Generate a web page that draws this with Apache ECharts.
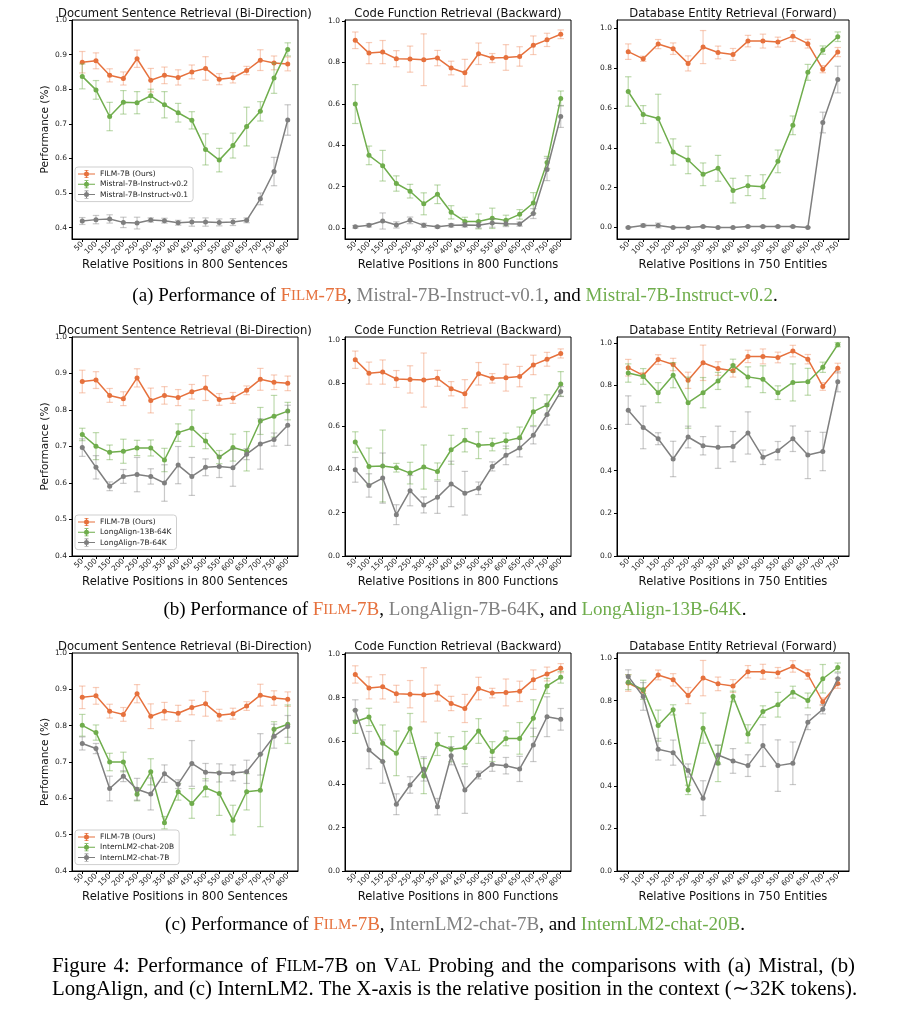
<!DOCTYPE html>
<html><head><meta charset="utf-8">
<script src="https://cdn.jsdelivr.net/npm/echarts@6/dist/echarts.min.js"></script>
<style>html,body{margin:0;padding:0;background:#fff}#c{width:911px;height:1016px}</style>
</head><body><div id="c"></div>
<script>
// ---------- DATA ----------
const positions800 = ['50','100','150','200','250','300','350','400','450','500','550','600','650','700','750','800'];
const positions750 = ['50','100','150','200','250','300','350','400','450','500','550','600','650','700','750'];
const ticksDoc = [0.4,0.5,0.6,0.7,0.8,0.9,1.0];
const ticksUnit = [0.0,0.2,0.4,0.6,0.8,1.0];

const nameFilm = 'FILM-7B (Ours)';
const nameMistral02 = 'Mistral-7B-Instruct-v0.2';
const nameMistral01 = 'Mistral-7B-Instruct-v0.1';
const nameLA13 = 'LongAlign-13B-64K';
const nameLA7 = 'LongAlign-7B-64K';
const nameIL20 = 'InternLM2-chat-20B';
const nameIL7 = 'InternLM2-chat-7B';

const docFilm    = [0.878,0.882,0.840,0.831,0.888,0.826,0.840,0.834,0.850,0.860,0.829,0.833,0.854,0.884,0.876,0.873];
const docFilmErr = [0.031,0.023,0.019,0.019,0.025,0.034,0.024,0.022,0.020,0.034,0.016,0.015,0.012,0.030,0.020,0.020];
const codeFilm    = [0.907,0.845,0.850,0.818,0.816,0.813,0.821,0.773,0.750,0.842,0.821,0.824,0.829,0.883,0.909,0.936];
const codeFilmErr = [0.040,0.051,0.056,0.039,0.063,0.125,0.037,0.033,0.065,0.052,0.022,0.062,0.047,0.045,0.032,0.021];
const dbFilm    = [0.883,0.847,0.921,0.898,0.824,0.906,0.879,0.869,0.936,0.936,0.931,0.961,0.923,0.795,0.881];
const dbFilmErr = [0.039,0.013,0.023,0.029,0.038,0.083,0.032,0.030,0.029,0.035,0.025,0.027,0.022,0.018,0.023];

const docMistral02    = [0.837,0.798,0.721,0.762,0.761,0.781,0.755,0.732,0.710,0.626,0.595,0.637,0.692,0.736,0.832,0.915];
const docMistral02Err = [0.036,0.027,0.041,0.034,0.032,0.019,0.038,0.027,0.025,0.045,0.034,0.036,0.056,0.028,0.044,0.019];
const docMistral01    = [0.419,0.423,0.425,0.415,0.413,0.422,0.420,0.414,0.416,0.416,0.415,0.416,0.421,0.483,0.562,0.711];
const docMistral01Err = [0.010,0.012,0.012,0.015,0.017,0.006,0.007,0.007,0.012,0.012,0.010,0.010,0.007,0.017,0.041,0.044];
const codeMistral02    = [0.599,0.351,0.301,0.215,0.178,0.117,0.163,0.076,0.032,0.032,0.047,0.037,0.066,0.121,0.317,0.626];
const codeMistral02Err = [0.094,0.045,0.074,0.037,0.033,0.053,0.045,0.032,0.020,0.036,0.049,0.025,0.023,0.050,0.029,0.036];
const codeMistral01    = [0.006,0.013,0.034,0.015,0.037,0.013,0.006,0.013,0.015,0.013,0.024,0.021,0.019,0.070,0.283,0.539];
const codeMistral01Err = [0.006,0.008,0.039,0.015,0.016,0.010,0.005,0.008,0.010,0.013,0.020,0.014,0.010,0.024,0.054,0.053];
const dbMistral02    = [0.683,0.567,0.547,0.379,0.339,0.267,0.297,0.185,0.210,0.205,0.332,0.513,0.779,0.891,0.958];
const dbMistral02Err = [0.074,0.045,0.122,0.066,0.069,0.057,0.065,0.062,0.050,0.060,0.057,0.047,0.040,0.021,0.024];
const dbMistral01    = [0.000,0.010,0.010,0.000,0.000,0.005,0.000,0.000,0.005,0.005,0.005,0.005,0.000,0.527,0.743];
const dbMistral01Err = [0.003,0.007,0.012,0.002,0.002,0.004,0.002,0.002,0.004,0.004,0.004,0.004,0.002,0.052,0.067];

const docLA13    = [0.733,0.701,0.684,0.687,0.696,0.696,0.663,0.738,0.750,0.715,0.671,0.697,0.687,0.770,0.783,0.797];
const docLA13Err = [0.017,0.037,0.020,0.033,0.021,0.022,0.032,0.024,0.050,0.021,0.018,0.037,0.054,0.037,0.057,0.024];
const docLA7     = [0.697,0.643,0.591,0.618,0.623,0.618,0.600,0.649,0.618,0.643,0.645,0.642,0.679,0.707,0.719,0.758];
const docLA7Err  = [0.024,0.032,0.012,0.019,0.047,0.021,0.050,0.051,0.052,0.023,0.030,0.051,0.015,0.069,0.018,0.055];
const codeLA13    = [0.527,0.414,0.416,0.408,0.383,0.411,0.391,0.491,0.535,0.512,0.515,0.532,0.546,0.667,0.698,0.795];
const codeLA13Err = [0.047,0.085,0.166,0.020,0.050,0.102,0.039,0.067,0.054,0.062,0.029,0.036,0.050,0.064,0.047,0.057];
const codeLA7     = [0.398,0.326,0.360,0.191,0.302,0.236,0.271,0.333,0.290,0.313,0.414,0.465,0.499,0.558,0.654,0.760];
const codeLA7Err  = [0.057,0.054,0.116,0.046,0.070,0.037,0.074,0.105,0.101,0.029,0.021,0.043,0.041,0.040,0.049,0.023];
const dbLA13    = [0.858,0.842,0.766,0.848,0.719,0.766,0.821,0.893,0.840,0.829,0.766,0.814,0.817,0.885,0.991];
const dbLA13Err = [0.043,0.037,0.047,0.059,0.120,0.071,0.040,0.030,0.047,0.063,0.032,0.087,0.063,0.024,0.010];
const dbLA7     = [0.684,0.603,0.550,0.455,0.558,0.517,0.510,0.513,0.577,0.463,0.494,0.550,0.474,0.490,0.817];
const dbLA7Err  = [0.067,0.100,0.028,0.083,0.051,0.043,0.099,0.071,0.099,0.034,0.043,0.060,0.111,0.090,0.047];

const docIL20    = [0.801,0.781,0.700,0.700,0.611,0.673,0.533,0.618,0.586,0.629,0.613,0.540,0.618,0.622,0.790,0.804];
const docIL20Err = [0.030,0.021,0.024,0.027,0.018,0.036,0.017,0.023,0.041,0.025,0.060,0.041,0.050,0.100,0.021,0.053];
const docIL7     = [0.751,0.737,0.627,0.661,0.625,0.612,0.668,0.639,0.696,0.672,0.670,0.670,0.673,0.721,0.771,0.798];
const docIL7Err  = [0.018,0.014,0.034,0.015,0.030,0.044,0.024,0.012,0.063,0.024,0.025,0.022,0.032,0.057,0.033,0.030];
const codeIL20    = [0.689,0.711,0.589,0.543,0.658,0.438,0.585,0.562,0.569,0.646,0.551,0.612,0.612,0.705,0.854,0.894];
const codeIL20Err = [0.054,0.040,0.085,0.103,0.069,0.081,0.052,0.058,0.075,0.057,0.046,0.034,0.073,0.085,0.035,0.027];
const codeIL7     = [0.742,0.558,0.505,0.308,0.397,0.471,0.297,0.532,0.374,0.443,0.492,0.486,0.471,0.582,0.712,0.700];
const codeIL7Err  = [0.048,0.086,0.100,0.048,0.038,0.056,0.038,0.042,0.108,0.018,0.032,0.038,0.058,0.077,0.092,0.050];
const dbIL20    = [0.887,0.851,0.683,0.757,0.381,0.671,0.506,0.820,0.644,0.749,0.781,0.840,0.801,0.903,0.956];
const dbIL20Err = [0.035,0.045,0.073,0.024,0.022,0.071,0.086,0.025,0.043,0.027,0.058,0.028,0.035,0.067,0.021];
const dbIL7     = [0.914,0.820,0.572,0.556,0.472,0.342,0.545,0.517,0.495,0.589,0.495,0.506,0.699,0.760,0.903];
const dbIL7Err  = [0.031,0.065,0.051,0.059,0.031,0.082,0.045,0.058,0.051,0.098,0.121,0.100,0.035,0.022,0.027];

// ---------- LAYOUT / STYLE ----------
const F = 'DejaVu Sans';
const SERIF = 'Liberation Serif';
const C  = {o:'#E6713D', g:'#6FAD4C', k:'#7F7F7F'};
const CE = {o:'rgba(238,135,90,0.42)', g:'rgba(111,173,76,0.45)', k:'rgba(127,127,127,0.42)'};
const rows = [{top:20,height:219},{top:337,height:219},{top:653,height:218}];
const cols = [{left:72,width:226},{left:345,width:226},{left:617,width:232}];
const T1 = 'Document Sentence Retrieval (Bi-Direction)';
const T2 = 'Code Function Retrieval (Backward)';
const T3 = 'Database Entity Retrieval (Forward)';
const X1 = 'Relative Positions in 800 Sentences';
const X2 = 'Relative Positions in 800 Functions';
const X3 = 'Relative Positions in 750 Entities';

const panels = [
 {r:0,c:0,t:T1,x:X1,cats:positions800,ymin:0.367,ymax:1.0,ticks:ticksDoc,s:[[nameFilm,docFilm,docFilmErr,'o'],[nameMistral02,docMistral02,docMistral02Err,'g'],[nameMistral01,docMistral01,docMistral01Err,'k']]},
 {r:0,c:1,t:T2,x:X2,cats:positions800,ymin:-0.053,ymax:1.005,ticks:ticksUnit,s:[[nameFilm,codeFilm,codeFilmErr,'o'],[nameMistral02,codeMistral02,codeMistral02Err,'g'],[nameMistral01,codeMistral01,codeMistral01Err,'k']]},
 {r:0,c:2,t:T3,x:X3,cats:positions750,ymin:-0.058,ymax:1.042,ticks:ticksUnit,s:[[nameFilm,dbFilm,dbFilmErr,'o'],[nameMistral02,dbMistral02,dbMistral02Err,'g'],[nameMistral01,dbMistral01,dbMistral01Err,'k']]},
 {r:1,c:0,t:T1,x:X1,cats:positions800,ymin:0.4,ymax:1.0,ticks:ticksDoc,s:[[nameFilm,docFilm,docFilmErr,'o'],[nameLA13,docLA13,docLA13Err,'g'],[nameLA7,docLA7,docLA7Err,'k']]},
 {r:1,c:1,t:T2,x:X2,cats:positions800,ymin:0,ymax:1.012,ticks:ticksUnit,s:[[nameFilm,codeFilm,codeFilmErr,'o'],[nameLA13,codeLA13,codeLA13Err,'g'],[nameLA7,codeLA7,codeLA7Err,'k']]},
 {r:1,c:2,t:T3,x:X3,cats:positions750,ymin:0,ymax:1.027,ticks:ticksUnit,s:[[nameFilm,dbFilm,dbFilmErr,'o'],[nameLA13,dbLA13,dbLA13Err,'g'],[nameLA7,dbLA7,dbLA7Err,'k']]},
 {r:2,c:0,t:T1,x:X1,cats:positions800,ymin:0.4,ymax:1.0,ticks:ticksDoc,s:[[nameFilm,docFilm,docFilmErr,'o'],[nameIL20,docIL20,docIL20Err,'g'],[nameIL7,docIL7,docIL7Err,'k']]},
 {r:2,c:1,t:T2,x:X2,cats:positions800,ymin:0,ymax:1.006,ticks:ticksUnit,s:[[nameFilm,codeFilm,codeFilmErr,'o'],[nameIL20,codeIL20,codeIL20Err,'g'],[nameIL7,codeIL7,codeIL7Err,'k']]},
 {r:2,c:2,t:T3,x:X3,cats:positions750,ymin:0,ymax:1.024,ticks:ticksUnit,s:[[nameFilm,dbFilm,dbFilmErr,'o'],[nameIL20,dbIL20,dbIL20Err,'g'],[nameIL7,dbIL7,dbIL7Err,'k']]}
];

function makeErr(color){
  return function(params, api){
    const x = api.value(0), y = api.value(1), e = api.value(2);
    const a = api.coord([x, y + e]), b = api.coord([x, y - e]);
    const cap = 3.2;
    const st = {stroke: color, lineWidth: 1.2};
    return {type:'group', children:[
      {type:'line', shape:{x1:a[0],y1:a[1],x2:b[0],y2:b[1]}, style:st},
      {type:'line', shape:{x1:a[0]-cap,y1:a[1],x2:a[0]+cap,y2:a[1]}, style:st},
      {type:'line', shape:{x1:b[0]-cap,y1:b[1],x2:b[0]+cap,y2:b[1]}, style:st}
    ]};
  };
}

const grid = [], xAxis = [], yAxis = [], series = [], graphic = [];
panels.forEach((p, pi) => {
  const g = {left: cols[p.c].left, top: rows[p.r].top, width: cols[p.c].width, height: rows[p.r].height};
  grid.push(Object.assign({show:true, borderColor:'#000', borderWidth:1, backgroundColor:'#fff'}, g));
  const idx = p.cats.map((_, i) => i);
  xAxis.push({type:'value', gridIndex:pi, min:-0.75, max:p.cats.length - 0.25,
    name:p.x, nameLocation:'middle', nameGap:19,
    nameTextStyle:{fontSize:11.6, fontFamily:F, color:'#111'},
    axisLine:{show:true, onZero:false, lineStyle:{color:'#000', width:1}},
    axisTick:{show:true, customValues:idx, length:3, lineStyle:{color:'#000'}},
    axisLabel:{customValues:idx, formatter:v => p.cats[Math.round(v)], rotate:45, fontSize:7.5, margin:4, color:'#222', fontFamily:F},
    splitLine:{show:false}});
  yAxis.push({type:'value', gridIndex:pi, min:p.ymin, max:p.ymax,
    name: p.c === 0 ? 'Performance (%)' : '', nameLocation:'middle', nameGap:15,
    nameTextStyle:{fontSize:10.5, fontFamily:F, color:'#111'},
    axisLine:{show:true, onZero:false, lineStyle:{color:'#000', width:1}},
    axisTick:{show:true, customValues:p.ticks, length:3, lineStyle:{color:'#000'}},
    axisLabel:{customValues:p.ticks, formatter:v => v.toFixed(1), fontSize:7.5, margin:5, color:'#222', fontFamily:F},
    splitLine:{show:false}});
  graphic.push({type:'text', x: g.left + g.width / 2, y: g.top - 6,
    style:{text:p.t, fontFamily:F, fontSize:11.6, fill:'#111', textAlign:'center', textVerticalAlign:'middle'}});
  p.s.forEach(([name, vals, errs, ck], si) => {
    series.push({type:'custom', xAxisIndex:pi, yAxisIndex:pi, z:2 + si * 2, silent:true,
      renderItem: makeErr(CE[ck]), data: vals.map((v, i) => [i, v, errs[i]]), encode:{x:0, y:1}});
    series.push({type:'line', name, xAxisIndex:pi, yAxisIndex:pi, z:3 + si * 2,
      data: vals.map((v, i) => [i, v]), symbol:'circle', symbolSize:5, showSymbol:true,
      lineStyle:{color:C[ck], width:1.5}, itemStyle:{color:C[ck], borderWidth:0}});
  });
});

const ICON = 'path://M0,3.5L17,3.5L17,4.5L0,4.5Z M8,0L9,0L9,8L8,8Z M6.5,0L10.5,0L10.5,0.7L6.5,0.7Z M6.5,7.3L10.5,7.3L10.5,8L6.5,8Z M6,4A2.5,2.5,0,1,1,11,4A2.5,2.5,0,1,1,6,4Z';
const legendRows = [[nameFilm,nameMistral02,nameMistral01],[nameFilm,nameLA13,nameLA7],[nameFilm,nameIL20,nameIL7]];
const legendTops = [167, 515, 830];
const legend = legendRows.map((names, i) => ({
  orient:'vertical', left:75, top:legendTops[i], itemWidth:17, itemHeight:8, itemGap:2.3,
  padding:[3,5,3,3], borderColor:'#cfcfcf', borderWidth:1, borderRadius:3, backgroundColor:'#fff',
  selectedMode:false, itemStyle:{borderWidth:0},
  textStyle:{fontSize:7.5, fontFamily:F, color:'#222'},
  data: names.map(n => ({name:n, icon:ICON}))
}));

// captions
const capRich = {
  o:{fill:C.o, color:C.o, fontFamily:SERIF, fontSize:19},
  os:{fill:C.o, color:C.o, fontFamily:SERIF, fontSize:15},
  k:{fill:'#808080', color:'#808080', fontFamily:SERIF, fontSize:19},
  g:{fill:'#6FAD4C', color:'#6FAD4C', fontFamily:SERIF, fontSize:19}
};
const caps = [
  ['(a) Performance of {o|F}{os|ILM}{o|-7B}, {k|Mistral-7B-Instruct-v0.1}, and {g|Mistral-7B-Instruct-v0.2}.', 296],
  ['(b) Performance of {o|F}{os|ILM}{o|-7B}, {k|LongAlign-7B-64K}, and {g|LongAlign-13B-64K}.', 610],
  ['(c) Performance of {o|F}{os|ILM}{o|-7B}, {k|InternLM2-chat-7B}, and {g|InternLM2-chat-20B}.', 925]
];
caps.forEach(([t, y]) => graphic.push({type:'text', x:455, y:y,
  style:{text:t, fontFamily:SERIF, fontSize:19, fill:'#000', textAlign:'center', textVerticalAlign:'middle', rich:capRich}}));

// figure caption: first line justified between x=52 and x=855
const FS = 20.8, FSS = 16.6;
const ctx = document.createElement('canvas').getContext('2d');
function mw(t, s){ ctx.font = s + 'px "Liberation Serif"'; return ctx.measureText(t).width; }
const line1 = [[['Figure',0]],[['4:',0]],[['Performance',0]],[['of',0]],[['F',0],['ILM',1],['-7B',0]],[['on',0]],[['V',0],['AL',1]],
  [['Probing',0]],[['and',0]],[['the',0]],[['comparisons',0]],[['with',0]],[['(a)',0]],[['Mistral,',0]],[['(b)',0]]];
const widths = line1.map(w => w.reduce((s, [t, sm]) => s + mw(t, sm ? FSS : FS), 0));
const totalW = widths.reduce((a, b) => a + b, 0);
const gap = (855 - 52 - totalW) / (line1.length - 1);
let cx = 52;
line1.forEach((w, i) => {
  const txt = w.map(([t, sm]) => sm ? '{s|' + t + '}' : '{n|' + t + '}').join('');
  graphic.push({type:'text', x:cx, y:967, style:{text:txt, fontFamily:SERIF, fontSize:FS, fill:'#000', textAlign:'left', textVerticalAlign:'middle',
    rich:{n:{fontFamily:SERIF, fontSize:FS, fill:'#000', color:'#000'}, s:{fontFamily:SERIF, fontSize:FSS, fill:'#000', color:'#000'}}}});
  cx += widths[i] + gap;
});
graphic.push({type:'text', x:52, y:990, style:{text:'LongAlign, and (c) InternLM2. The X-axis is the relative position in the context (\u223C32K tokens).',
  fontFamily:SERIF, fontSize:FS, fill:'#000', textAlign:'left', textVerticalAlign:'middle'}});

const chart = echarts.init(document.getElementById('c'), null, {renderer:'canvas'});
chart.setOption({backgroundColor:'#fff', animation:false, grid, xAxis, yAxis, series, legend, graphic});
</script></body></html>
